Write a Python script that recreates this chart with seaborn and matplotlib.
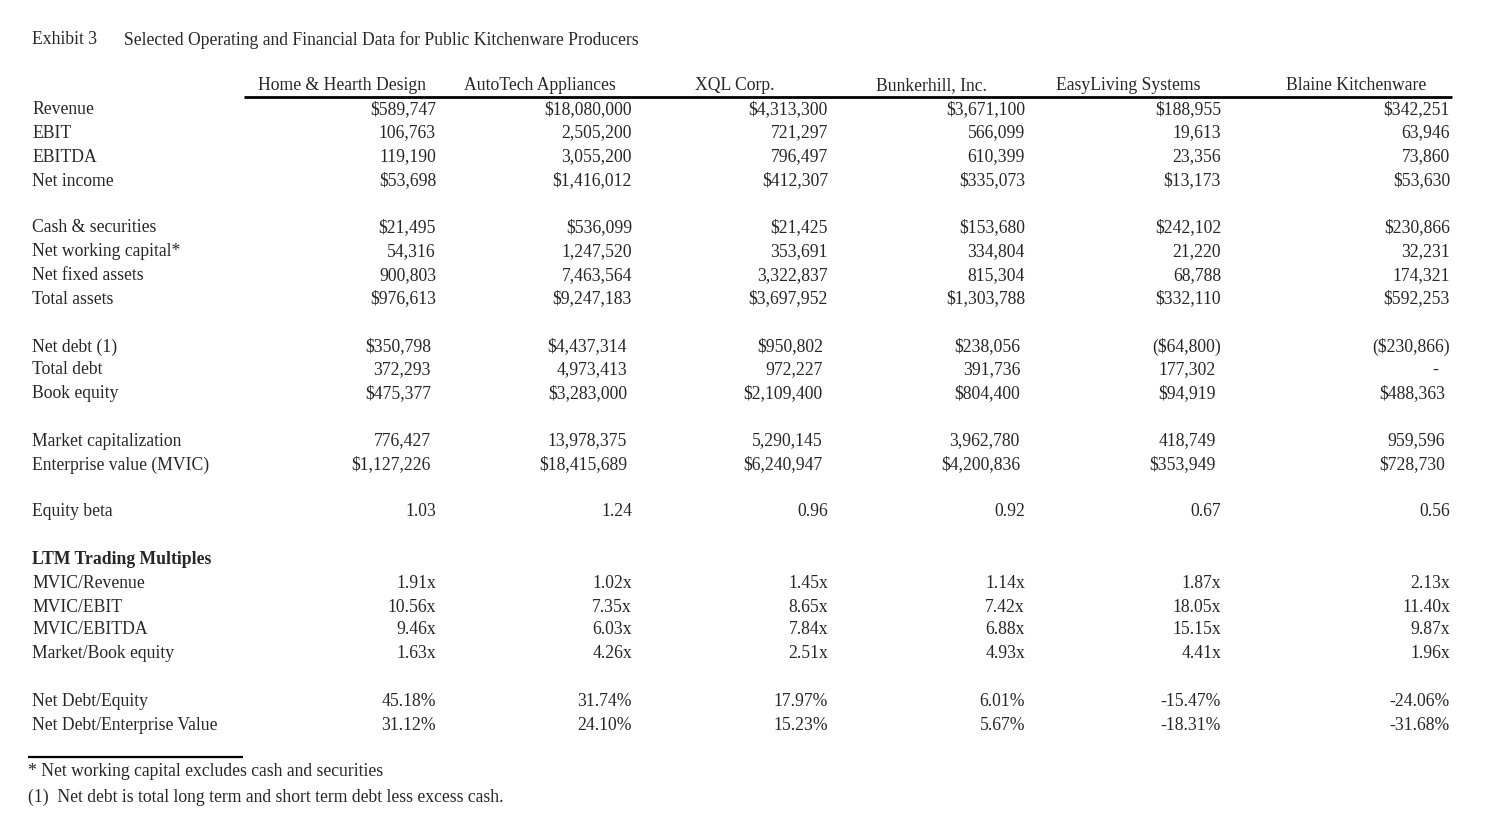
import numpy as np
import pandas as pd
import matplotlib
matplotlib.use("Agg")
import matplotlib.pyplot as plt
import seaborn as sns

# TABLE DATA
companies = ['Home & Hearth Design', 'AutoTech Appliances', 'XQL Corp.',
             'Bunkerhill, Inc.', 'EasyLiving Systems', 'Blaine Kitchenware']

row_labels = ['Revenue', 'EBIT', 'EBITDA', 'Net income',
              'Cash & securities', 'Net working capital*', 'Net fixed assets', 'Total assets',
              'Net debt (1)', 'Total debt', 'Book equity',
              'Market capitalization', 'Enterprise value (MVIC)',
              'Equity beta',
              'LTM Trading Multiples',
              'MVIC/Revenue', 'MVIC/EBIT', 'MVIC/EBITDA', 'Market/Book equity',
              'Net Debt/Equity', 'Net Debt/Enterprise Value']

home_hearth = ['$589,747', '106,763', '119,190', '$53,698',
               '$21,495', '54,316', '900,803', '$976,613',
               '$350,798', '372,293', '$475,377',
               '776,427', '$1,127,226',
               '1.03', '',
               '1.91x', '10.56x', '9.46x', '1.63x',
               '45.18%', '31.12%']
autotech = ['$18,080,000', '2,505,200', '3,055,200', '$1,416,012',
            '$536,099', '1,247,520', '7,463,564', '$9,247,183',
            '$4,437,314', '4,973,413', '$3,283,000',
            '13,978,375', '$18,415,689',
            '1.24', '',
            '1.02x', '7.35x', '6.03x', '4.26x',
            '31.74%', '24.10%']
xql = ['$4,313,300', '721,297', '796,497', '$412,307',
       '$21,425', '353,691', '3,322,837', '$3,697,952',
       '$950,802', '972,227', '$2,109,400',
       '5,290,145', '$6,240,947',
       '0.96', '',
       '1.45x', '8.65x', '7.84x', '2.51x',
       '17.97%', '15.23%']
bunkerhill = ['$3,671,100', '566,099', '610,399', '$335,073',
              '$153,680', '334,804', '815,304', '$1,303,788',
              '$238,056', '391,736', '$804,400',
              '3,962,780', '$4,200,836',
              '0.92', '',
              '1.14x', '7.42x', '6.88x', '4.93x',
              '6.01%', '5.67%']
easyliving = ['$188,955', '19,613', '23,356', '$13,173',
              '$242,102', '21,220', '68,788', '$332,110',
              '($64,800)', '177,302', '$94,919',
              '418,749', '$353,949',
              '0.67', '',
              '1.87x', '18.05x', '15.15x', '4.41x',
              '-15.47%', '-18.31%']
blaine = ['$342,251', '63,946', '73,860', '$53,630',
          '$230,866', '32,231', '174,321', '$592,253',
          '($230,866)', '-', '$488,363',
          '959,596', '$728,730',
          '0.56', '',
          '2.13x', '11.40x', '9.87x', '1.96x',
          '-24.06%', '-31.68%']

footnotes = ['* Net working capital excludes cash and securities',
             '(1)  Net debt is total long term and short term debt less excess cash.']

df = pd.DataFrame({c: v for c, v in zip(companies,
                   [home_hearth, autotech, xql, bunkerhill, easyliving, blaine])},
                  index=row_labels)

# LAYOUT (pixel-like coordinates)
row_y = [108, 131, 155, 179, 226, 250, 274, 297, 345, 368, 392,
         439, 463, 510, 557, 581, 605, 628, 652, 699, 723]
col_right = [436, 632, 828, 1025, 1221, 1450]
head_center = [342, 540, 735, 931, 1128, 1356]
# rows formatted with room for a closing paren
paren_rows = {'Net debt (1)', 'Total debt', 'Book equity',
              'Market capitalization', 'Enterprise value (MVIC)'}

sns.set_theme(style='white')
plt.rcParams['font.family'] = ['Liberation Serif', 'DejaVu Serif']

fig = plt.figure(figsize=(14.88, 8.26), dpi=100)
ax = fig.add_axes([0, 0, 1, 1])
ax.set_xlim(0, 1488)
ax.set_ylim(826, 0)
ax.axis('off')

fs = 12.7
dy = 2  # nudge text down to sit like the original

def txt(x, y, s, **kw):
    ax.text(x, y + dy, s, fontsize=fs, va='center', **kw)

txt(32, 38, 'Exhibit 3')
txt(124, 38, 'Selected Operating and Financial Data for Public Kitchenware Producers')

for name, xc in zip(companies, head_center):
    txt(xc, 84, name, ha='center')
ax.plot([244, 1452], [97, 97], color='black', lw=2.0, solid_capstyle='butt')

for label, y in zip(row_labels, row_y):
    bold = label == 'LTM Trading Multiples'
    txt(32, y, label, fontweight='bold' if bold else 'normal')
    for name, xr in zip(companies, col_right):
        val = df.loc[label, name]
        if not val:
            continue
        x = xr
        if label in paren_rows and not val.endswith(')'):
            x = xr - 5
            if val == '-':
                x = xr - 12
        txt(x, y, val, ha='right')

ax.plot([28, 243], [757, 757], color='black', lw=1.6, solid_capstyle='butt')
txt(28, 770, footnotes[0])
txt(28, 795, footnotes[1])

fig.savefig('out.png', dpi=100, facecolor='white')
